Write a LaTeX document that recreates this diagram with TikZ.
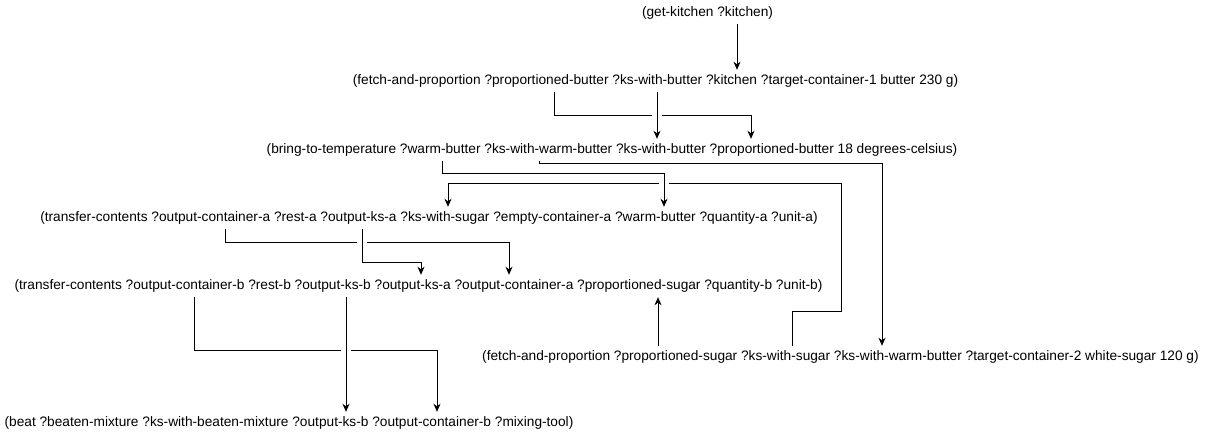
\documentclass[tikz,border=0pt]{standalone}
\usepackage{fontspec}
\setmainfont{Liberation Sans}
\usetikzlibrary{arrows.meta}
\tikzset{
  lbl/.style={inner xsep=0pt, inner ysep=4.5pt, text height=10pt, text depth=3pt,
    font=\fontsize{13.7}{16}\selectfont, text=black},
  conn/.style={draw=black, line width=1pt, -{Stealth[length=8pt,width=7pt,inset=2.5pt]}},
  crossover/.style={preaction={draw=white, line width=10pt, -}},
}
\begin{document}
\begin{tikzpicture}[x=1pt,y=-1pt]
\useasboundingbox (0,0) rectangle (1211,437);
\node[lbl] (getk) at (707.5,13) {(get-kitchen ?kitchen)};
\node[lbl] (fetchb) at (655.5,81) {(fetch-and-proportion ?proportioned-butter ?ks-with-butter ?kitchen ?target-container-1 butter 230 g)};
\node[lbl] (bring) at (612,150) {(bring-to-temperature ?warm-butter ?ks-with-warm-butter ?ks-with-butter ?proportioned-butter 18 degrees-celsius)};
\node[lbl] (tra) at (429,218) {(transfer-contents ?output-container-a ?rest-a ?output-ks-a ?ks-with-sugar ?empty-container-a ?warm-butter ?quantity-a ?unit-a)};
\node[lbl] (trb) at (418.5,286) {(transfer-contents ?output-container-b ?rest-b ?output-ks-b ?output-ks-a ?output-container-a ?proportioned-sugar ?quantity-b ?unit-b)};
\node[lbl] (fetchs) at (840.5,357) {(fetch-and-proportion ?proportioned-sugar ?ks-with-sugar ?ks-with-warm-butter ?target-container-2 white-sugar 120 g)};
\node[lbl] (beat) at (289,423) {(beat ?beaten-mixture ?ks-with-beaten-mixture ?output-ks-b ?output-container-b ?mixing-tool)};

% connectors with horizontal runs (drawn first)
\draw[conn] (getk.south -| 737,0) -- (fetchb.north -| 737,0);
\draw[conn] (fetchb.south -| 554,0) -- (554,115) -- (751,115) -- (bring.north -| 751,0);
\draw[conn] (bring.south -| 539,0) -- (539,163) -- (882,163) -- (fetchs.north -| 882,0);
\draw[conn] (fetchs.north -| 792,0) -- (792,311) -- (841,311) -- (841,183) -- (448,183) -- (tra.north -| 448,0);
\draw[conn] (fetchs.north -| 658,0) -- (trb.south -| 658,0);
\draw[conn] (tra.south -| 225,0) -- (225,242) -- (509,242) -- (trb.north -| 509,0);
\draw[conn] (trb.south -| 194,0) -- (194,350) -- (437,350) -- (beat.north -| 437,0);

% connectors that cross over others
\draw[conn, crossover] (fetchb.south -| 657,0) -- (bring.north -| 657,0);
\draw[conn, crossover] (bring.south -| 442,0) -- (442,173) -- (664,173) -- (tra.north -| 664,0);
\draw[conn, crossover] (tra.south -| 362,0) -- (362,262) -- (421,262) -- (trb.north -| 421,0);
\draw[conn, crossover] (trb.south -| 346,0) -- (beat.north -| 346,0);
\end{tikzpicture}
\end{document}
